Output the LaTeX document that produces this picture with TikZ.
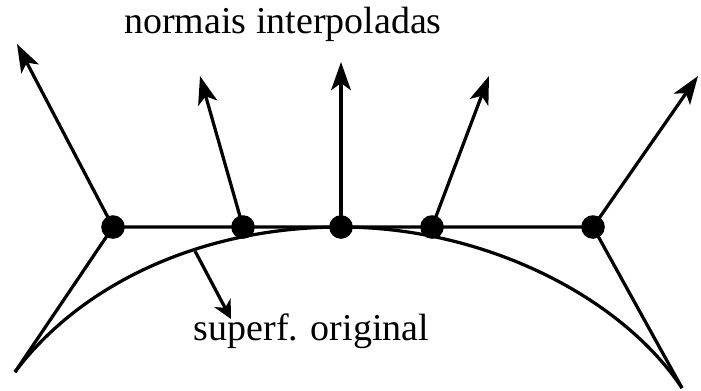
\documentclass[tikz,border=0pt]{standalone}
\usepackage{fontspec}
\setmainfont{Liberation Serif}
\usepackage{tikz}
\usetikzlibrary{arrows.meta}

\begin{document}
\begin{tikzpicture}[
      x=0.025cm, y=-0.025cm,
      >={Stealth[length=20pt, width=14pt, inset=5pt]},
      edge/.style={line width=2.3pt, line join=round},
      normal/.style={->, line width=2.3pt},
      hint/.style={-{Stealth[length=13pt, width=13pt, inset=4pt]}, line width=2.3pt},
      dot/.style={circle, fill=black, inner sep=0pt, minimum size=0.59cm},
      caption/.style={font=\fontsize{27}{31}\selectfont, anchor=base, inner sep=0pt}
    ]
    \useasboundingbox (0,0) rectangle (701,390);

    % points on the flat element
    \coordinate (p1) at (113,227);
    \coordinate (p2) at (243,227);
    \coordinate (p3) at (341,227);
    \coordinate (p4) at (432,227);
    \coordinate (p5) at (593,227);

    % tips of the normals
    \coordinate (n1) at (17,44);
    \coordinate (n2) at (200,76);
    \coordinate (n3) at (341,62);
    \coordinate (n4) at (489,76);
    \coordinate (n5) at (698,76);

    % ends of the original surface
    \coordinate (l) at (15,372);
    \coordinate (r) at (682,388);
    \coordinate (s) at (195,251);
    \coordinate (t) at (231,319);

    \draw[edge] (l) .. controls (80,285) and (200,227) .. (p3)
                    .. controls (482,227) and (620,295) .. (r);
    \draw[edge] (l) -- (p1) -- (p5) -- (r);

    \foreach \i in {1,...,5}
      \draw[normal] (p\i) -- (n\i);

    \foreach \i in {1,...,5}
      \node[dot] (d\i) at (p\i) {};

    \draw[hint] (s) -- (t);

    \node[caption] (top) at (283,33) {normais interpoladas};
    \node[caption] (bottom) at (311.5,340) {superf. original};
  \end{tikzpicture}
\end{document}
